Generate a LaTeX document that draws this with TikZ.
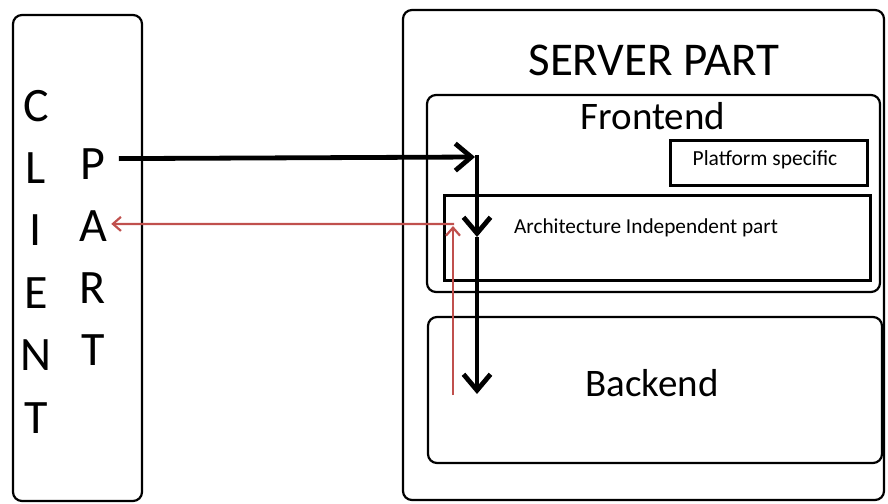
\documentclass[tikz,border=0pt]{standalone}
\usepackage{fontspec}
\setmainfont{Carlito}
\usetikzlibrary{arrows.meta}
\definecolor{myreply}{RGB}{192, 80, 77}
\tikzset{every picture/.style={line width=0.75pt}}

\begin{document}
\begin{tikzpicture}[x=1pt,y=1pt,yscale=-1,
  part/.style={draw, line width=2.2pt, rounded corners=9pt, inner sep=0pt},
  block/.style={draw, line width=3pt, inner sep=0pt},
  letter/.style={font=\fontsize{48}{48}\selectfont, inner sep=0pt, anchor=base},
  flow/.style={line width=4.8pt, -{Straight Barb[length=16pt,width=27pt]}},
  reply/.style={color=myreply, line width=2.2pt, -{Straight Barb[length=8pt,width=14pt]}}]
\useasboundingbox (0,0) rectangle (888,503);

%Shape: Rounded Rect [client]
\draw (77.5,258) node (client) [part, minimum width=129pt, minimum height=486pt] {};
%Shape: Rounded Rect [server]
\draw (643.5,255) node (server) [part, minimum width=481pt, minimum height=490pt] {};
%Shape: Rounded Rect [frontend]
\draw (653.5,193.5) node (front) [part, minimum width=453pt, minimum height=197pt] {};
%Shape: Rectangle [platform]
\draw (768.5,162.5) node (platform) [block, minimum width=197pt, minimum height=45pt] {};
%Shape: Rectangle [architecture]
\draw (657,237.5) node (arch) [block, minimum width=426pt, minimum height=85pt] {};
%Shape: Rounded Rect [backend]
\draw (655,390) node (back) [part, minimum width=454pt, minimum height=146pt] {};

% Text Node
\foreach \ch [count=\i] in {C,L,I,E,N,T}
  \draw (36,{121+62.4*(\i-1)}) node (cl\i) [letter] {\ch};
% Text Node
\foreach \ch [count=\i] in {P,A,R,T}
  \draw (93,{179+62.3*(\i-1)}) node (pt\i) [letter] {\ch};
% Text Node
\draw (654,60) node (servertitle) [font=\fontsize{47}{47}\selectfont] {SERVER PART};
% Text Node
\draw (653,116) node (fronttitle) [font=\fontsize{39}{39}\selectfont] {Frontend};
% Text Node
\draw (765,160) node (platformtext) [font=\fontsize{21.5}{21.5}\selectfont] {Platform specific};
% Text Node
\draw (646,228) node (archtext) [font=\fontsize{21.3}{21.3}\selectfont] {Architecture Independent part};
% Text Node
\draw (652,383) node (backtext) [font=\fontsize{39}{39}\selectfont] {Backend};

%Straight Lines [request]
\coordinate (reqin) at (477,157);
\coordinate (reqmid) at (477,237);
\coordinate (reqout) at (477,394);
\draw [flow] ([xshift=13pt,yshift=-5pt]pt1.east) -- ([xshift=-2pt]reqin);
\draw [flow, line cap=rect] (reqin) -- (reqmid);
\draw [flow] (reqmid) -- (reqout);

%Straight Lines [response]
\coordinate (repout) at (453,395);
\coordinate (repin) at (453,224);
\draw [reply] (repout) -- ([yshift=2pt]repin);
\draw [reply, line cap=rect] (repin) -- ([xshift=4pt,yshift=-2pt]pt2.east);

\end{tikzpicture}
\end{document}
